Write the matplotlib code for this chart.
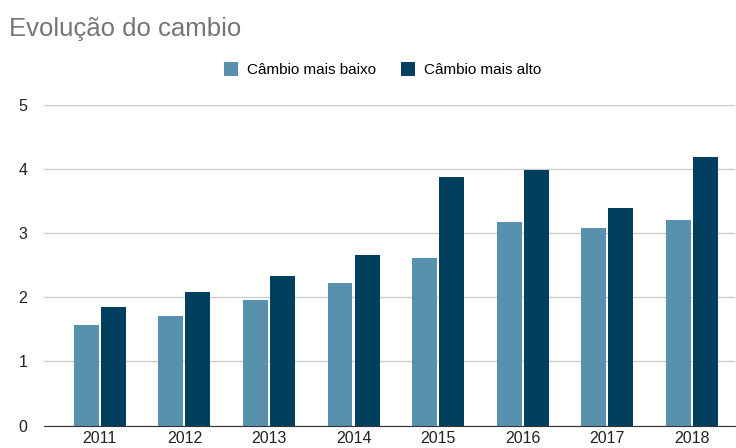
import matplotlib.pyplot as plt
import numpy as np

# cores do grafico
AZUL_CLARO = "#5891AD"
AZUL_ESCURO = "#00405E"
CINZA_TITULO = "#757575"

anos = ["2011", "2012", "2013", "2014", "2015", "2016", "2017", "2018"]
cambio_baixo = [1.57, 1.71, 1.96, 2.22, 2.61, 3.17, 3.08, 3.21]
cambio_alto = [1.85, 2.08, 2.33, 2.66, 3.88, 3.99, 3.39, 4.19]

plt.rcParams["font.family"] = ["Liberation Sans", "DejaVu Sans"]

fig = plt.figure(figsize=(7.36, 4.48), dpi=100)
ax = fig.add_axes([0.0598, 0.0502, 0.9388, 0.7154])

x = np.arange(len(anos))
largura = 0.295
ax.bar(x - 0.16, cambio_baixo, width=largura, color=AZUL_CLARO,
       label="Câmbio mais baixo", zorder=3)
ax.bar(x + 0.16, cambio_alto, width=largura, color=AZUL_ESCURO,
       label="Câmbio mais alto", zorder=3)

ax.set_xlim(-0.66, 7.51)
ax.set_ylim(0, 5)
ax.set_xticks(x)
ax.set_xticklabels(anos)
ax.set_yticks(range(6))

ax.grid(axis="y", color="#CCCCCC", linewidth=1, zorder=0)
for lado in ["top", "right", "left"]:
    ax.spines[lado].set_visible(False)
ax.spines["bottom"].set_color("#333333")
ax.spines["bottom"].set_zorder(4)
ax.tick_params(axis="both", length=0, labelsize=11.5, colors="#222222")
ax.tick_params(axis="y", pad=12)
ax.tick_params(axis="x", pad=4)

fig.text(0.012, 0.935, "Evolução do cambio", fontsize=18.5, color=CINZA_TITULO,
         ha="left", va="center")

fig.legend(loc="center", bbox_to_anchor=(0.52, 0.845), ncol=2, frameon=False,
           fontsize=11, handlelength=0.9, handleheight=1.1, columnspacing=1.6,
           handletextpad=0.6)

plt.savefig("out.png", dpi=100)
